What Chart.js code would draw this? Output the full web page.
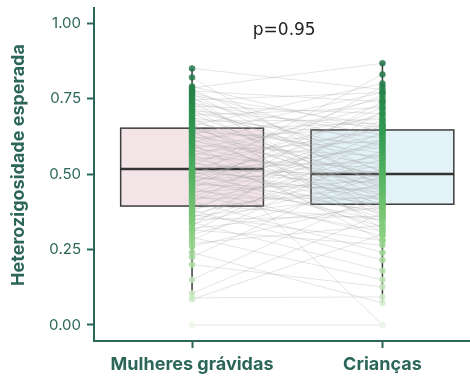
<!DOCTYPE html>
<html>
<head>
<meta charset="utf-8">
<script src="https://cdn.jsdelivr.net/npm/chart.js@4.4.1/dist/chart.umd.min.js"></script>
<style>
  html, body { margin: 0; padding: 0; background: #fff; }
  #wrap { width: 470px; height: 381px; }
</style>
</head>
<body>
<div id="wrap"><canvas id="chartHe"></canvas></div>
<script>
// grupos e valores pareados (mesma amostra em cada índice)
const groups = ['Mulheres grávidas', 'Crianças'];
const mulheres = [
  0.00, 0.61, 0.085, 0.09, 0.105, 0.15, 0.20, 0.225, 0.24, 0.26,
  0.27, 0.28, 0.29, 0.30, 0.31, 0.315, 0.32, 0.33, 0.335, 0.34,
  0.345, 0.35, 0.355, 0.36, 0.365, 0.37, 0.375, 0.38, 0.385, 0.39,
  0.40, 0.405, 0.41, 0.415, 0.42, 0.425, 0.43, 0.435, 0.44, 0.445,
  0.45, 0.455, 0.46, 0.465, 0.47, 0.472, 0.475, 0.48, 0.483, 0.487,
  0.49, 0.493, 0.496, 0.50, 0.503, 0.506, 0.509, 0.512, 0.514, 0.516,
  0.52, 0.525, 0.53, 0.535, 0.54, 0.545, 0.55, 0.555, 0.56, 0.565,
  0.57, 0.575, 0.58, 0.585, 0.59, 0.595, 0.60, 0.605, 0.61, 0.615,
  0.62, 0.624, 0.628, 0.632, 0.636, 0.64, 0.643, 0.646, 0.649, 0.651,
  0.655, 0.66, 0.665, 0.67, 0.675, 0.68, 0.685, 0.69, 0.695, 0.70,
  0.705, 0.71, 0.715, 0.72, 0.725, 0.73, 0.735, 0.74, 0.745, 0.75,
  0.755, 0.76, 0.765, 0.77, 0.775, 0.78, 0.785, 0.79, 0.82, 0.85
];
const criancas = [
  0.00, 0.00, 0.30, 0.093, 0.37, 0.44, 0.126, 0.52, 0.073, 0.41,
  0.33, 0.58, 0.15, 0.47, 0.62, 0.265, 0.39, 0.71, 0.49, 0.18,
  0.55, 0.36, 0.64, 0.43, 0.28, 0.50, 0.68, 0.215, 0.46, 0.57,
  0.35, 0.74, 0.24, 0.53, 0.42, 0.61, 0.31, 0.66, 0.48, 0.38,
  0.79, 0.295, 0.56, 0.45, 0.72, 0.40, 0.60, 0.345, 0.51, 0.665,
  0.44, 0.83, 0.37, 0.59, 0.47, 0.63, 0.325, 0.50, 0.70, 0.42,
  0.54, 0.39, 0.76, 0.48, 0.355, 0.645, 0.43, 0.52, 0.73, 0.31,
  0.49, 0.61, 0.40, 0.69, 0.46, 0.56, 0.28, 0.75, 0.50, 0.41,
  0.65, 0.53, 0.38, 0.77, 0.45, 0.60, 0.335, 0.67, 0.49, 0.57,
  0.43, 0.80, 0.36, 0.55, 0.68, 0.47, 0.62, 0.32, 0.72, 0.44,
  0.58, 0.655, 0.39, 0.51, 0.70, 0.48, 0.63, 0.41, 0.77, 0.54,
  0.365, 0.66, 0.46, 0.59, 0.74, 0.505, 0.867, 0.64, 0.45, 0.78
];
// estatísticas do boxplot
const q1 = [0.394, 0.400];
const medians = [0.517, 0.500];
const q3 = [0.652, 0.646];
const whiskLow = [0.085, 0.073];
const whiskHigh = [0.850, 0.867];
const yTicks = [0, 0.25, 0.5, 0.75, 1];
const yTitle = 'Heterozigosidade esperada';
const pLabel = 'p=0.95';

const axisColor = '#2b6658';
const boxFill = ['#f3e4e8', '#e3f2f7'];
const boxHalf = 0.375;

// escala de verdes conforme o valor
const greenStops = [
  [0.00, [236, 246, 233]],
  [0.15, [190, 228, 180]],
  [0.30, [140, 207, 130]],
  [0.45, [98, 186, 104]],
  [0.60, [58, 160, 86]],
  [0.75, [40, 136, 74]],
  [0.87, [36, 112, 74]]
];
function greenFor(v) {
  let a = greenStops[0], b = greenStops[greenStops.length - 1];
  for (let i = 0; i < greenStops.length - 1; i++) {
    if (v >= greenStops[i][0] && v <= greenStops[i + 1][0]) { a = greenStops[i]; b = greenStops[i + 1]; break; }
  }
  const t = b[0] === a[0] ? 0 : Math.min(1, Math.max(0, (v - a[0]) / (b[0] - a[0])));
  const c = a[1].map((x, k) => Math.round(x + (b[1][k] - x) * t));
  return 'rgba(' + c[0] + ',' + c[1] + ',' + c[2] + ',0.85)';
}

const datasets = [];
// linhas cinza ligando os pares
mulheres.forEach((m, i) => {
  datasets.push({
    type: 'line',
    data: [{ x: 0, y: m }, { x: 1, y: criancas[i] }],
    borderColor: 'rgba(170,170,170,0.3)',
    borderWidth: 1,
    pointRadius: 0,
    order: 2
  });
});
// pontos
[mulheres, criancas].forEach((vals, g) => {
  datasets.push({
    type: 'scatter',
    data: vals.map(v => ({ x: g, y: v })),
    pointRadius: 3,
    pointBackgroundColor: vals.map(greenFor),
    pointBorderColor: vals.map(greenFor),
    pointBorderWidth: 0.5,
    order: 1
  });
});

const boxPlugin = {
  id: 'boxes',
  beforeDatasetsDraw(chart) {
    const { ctx, scales: { x, y } } = chart;
    ctx.save();
    groups.forEach((_, g) => {
      const left = x.getPixelForValue(g - boxHalf);
      const right = x.getPixelForValue(g + boxHalf);
      const top = y.getPixelForValue(q3[g]);
      const bot = y.getPixelForValue(q1[g]);
      ctx.fillStyle = boxFill[g];
      ctx.fillRect(left, top, right - left, bot - top);
      ctx.strokeStyle = '#3c3c3c';
      ctx.lineWidth = 1.5;
      ctx.strokeRect(left, top, right - left, bot - top);
      // bigodes
      const cx = x.getPixelForValue(g);
      ctx.beginPath();
      ctx.moveTo(cx, y.getPixelForValue(whiskHigh[g]));
      ctx.lineTo(cx, top);
      ctx.moveTo(cx, bot);
      ctx.lineTo(cx, y.getPixelForValue(whiskLow[g]));
      ctx.stroke();
      // mediana
      const my = y.getPixelForValue(medians[g]);
      ctx.lineWidth = 2.5;
      ctx.strokeStyle = '#333';
      ctx.beginPath();
      ctx.moveTo(left, my);
      ctx.lineTo(right, my);
      ctx.stroke();
    });
    ctx.restore();
  },
  afterDraw(chart) {
    const { ctx, scales: { x } } = chart;
    ctx.save();
    ctx.font = '17px "DejaVu Sans", sans-serif';
    ctx.fillStyle = '#222';
    ctx.textAlign = 'center';
    ctx.textBaseline = 'middle';
    ctx.fillText(pLabel, x.getPixelForValue(0.5) - 3, 31);
    // título do eixo y
    ctx.translate(19, 165);
    ctx.rotate(-Math.PI / 2);
    ctx.font = 'bold 18px Inter, "Open Sans", sans-serif';
    ctx.fillStyle = axisColor;
    ctx.fillText(yTitle, 0, 0);
    ctx.restore();
  }
};

const ctx = document.getElementById('chartHe').getContext('2d');
new Chart(ctx, {
  data: { datasets },
  plugins: [boxPlugin],
  options: {
    responsive: true,
    maintainAspectRatio: false,
    animation: false,
    layout: { autoPadding: false, padding: { top: 8, right: 0, bottom: 0, left: 0 } },
    plugins: { legend: { display: false }, tooltip: { enabled: false } },
    scales: {
      x: {
        type: 'linear',
        min: -0.515,
        max: 1.46,
        afterBuildTicks: s => { s.ticks = [{ value: 0 }, { value: 1 }]; },
        afterFit: s => { s.height = 40; s.paddingLeft = 0; s.paddingRight = 0; },
        ticks: {
          callback: v => groups[v],
          color: axisColor,
          font: { family: 'Inter, "Open Sans", sans-serif', size: 18, weight: 'bold' },
          padding: 6,
          maxRotation: 0
        },
        grid: { drawOnChartArea: false, tickLength: 7, tickWidth: 2, color: axisColor },
        border: { color: axisColor, width: 2 }
      },
      y: {
        min: -0.053,
        max: 1.05,
        afterBuildTicks: s => { s.ticks = yTicks.map(v => ({ value: v })); },
        afterFit: s => { s.width = 94; s.paddingTop = 0; s.paddingBottom = 0; },
        ticks: {
          callback: v => v.toFixed(2),
          color: axisColor,
          font: { family: 'Inter, "Open Sans", sans-serif', size: 15 },
          padding: 6
        },
        grid: { drawOnChartArea: false, tickLength: 7, tickWidth: 2, color: axisColor },
        border: { color: axisColor, width: 2 }
      }
    }
  }
});
</script>
</body>
</html>
